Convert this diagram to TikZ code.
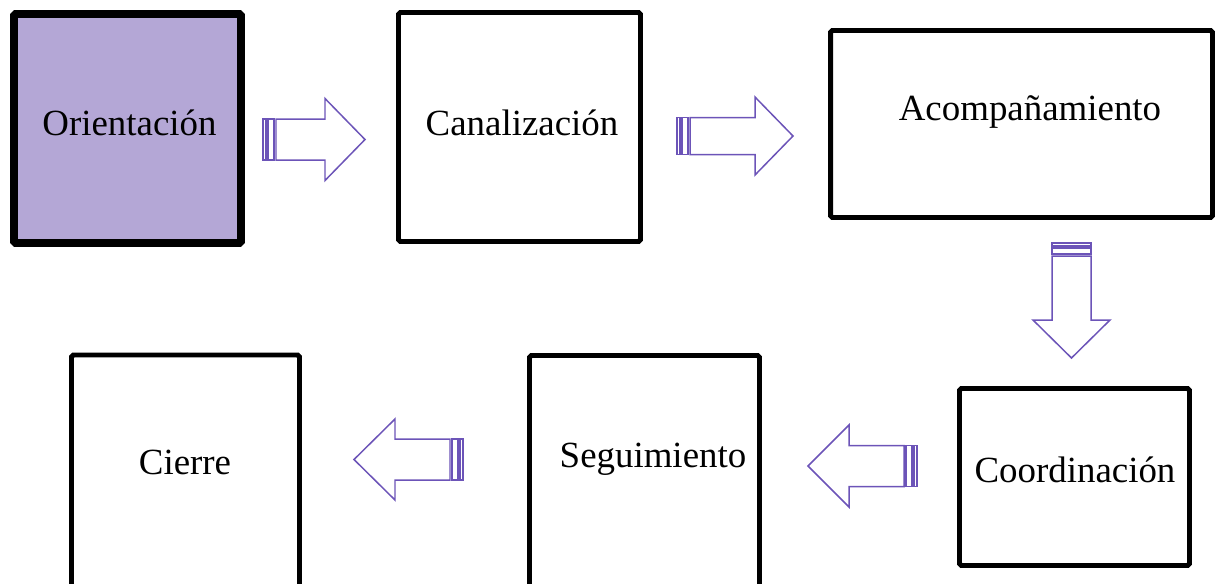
\documentclass[tikz,border=0pt]{standalone}
\usepackage{fontspec}
\setmainfont{Liberation Serif}
\usetikzlibrary{positioning, calc}

\definecolor{lilac}{RGB}{180,167,214}
\definecolor{arrowline}{RGB}{108,84,184}

\tikzset{
    stepbox/.style={draw=black, line width=2.8pt, rounded corners=1pt, inner sep=0pt},
    steptext/.style={anchor=base, font=\fontsize{21}{25}\selectfont},
    pics/stripearrow/.style n args={4}{code={
        % #1 length, #2 half body, #3 half head, #4 head length
        \draw[arrowline, line width=0.85pt, fill=white] (0,-#2) rectangle (3,#2);
        \draw[arrowline, line width=0.85pt, fill=white] (5,-#2) rectangle (11,#2);
        \draw[arrowline, line width=0.85pt, fill=white, line join=miter]
            (13,-#2) -- ({#1-#4},-#2) -- ({#1-#4},-#3) -- (#1,0)
            -- ({#1-#4},#3) -- ({#1-#4},#2) -- (13,#2) -- cycle;
    }}
}

\begin{document}
\begin{tikzpicture}[x=0.02cm, y=-0.02cm]
    \useasboundingbox (0,0) rectangle (1215,583);
    \clip (0,0) rectangle (1215,583);

    % Top row
    \node[stepbox, line width=4.5pt, fill=lilac, minimum width=4.54cm, minimum height=4.58cm] (orient) at (127.5,128.5) {};
    \node[stepbox, minimum width=4.84cm, minimum height=4.58cm] (canal) at (519.5,127) {};
    \node[stepbox, minimum width=7.64cm, minimum height=3.74cm] (acomp) at (1021.5,124) {};

    % Bottom row
    \node[stepbox, minimum width=4.60cm, minimum height=3.54cm] (coord) at (1074.5,477) {};
    \node[stepbox, minimum width=4.60cm, minimum height=5.29cm] (segui) at (644.5,487.75) {};
    \node[stepbox, minimum width=4.56cm, minimum height=5.29cm] (cierre) at (185.5,487.25) {};

    % Labels
    \node[steptext] (orientTxt) at (129.5,135) {Orientación};
    \node[steptext] (canalTxt) at (522,135) {Canalización};
    \node[steptext] (acompTxt) at (1030,120) {Acompañamiento};
    \node[steptext] (coordTxt) at (1075,482) {Coordinación};
    \node[steptext] (seguiTxt) at (653,467) {Seguimiento};
    \node[steptext] (cierreTxt) at (185,474) {Cierre};

    % Block arrows
    \pic at (263,139.5) {stripearrow={102}{20.5}{41}{40}};
    \pic at (677,136) {stripearrow={116}{18.5}{39}{38}};
    \pic[rotate=-90] at (1071.5,243) {stripearrow={115}{19.5}{38.5}{38}};
    \pic[rotate=180] at (917,466) {stripearrow={109}{20.5}{41}{41}};
    \pic[rotate=180] at (463,459.5) {stripearrow={109}{20.5}{40.5}{41}};
\end{tikzpicture}
\end{document}
